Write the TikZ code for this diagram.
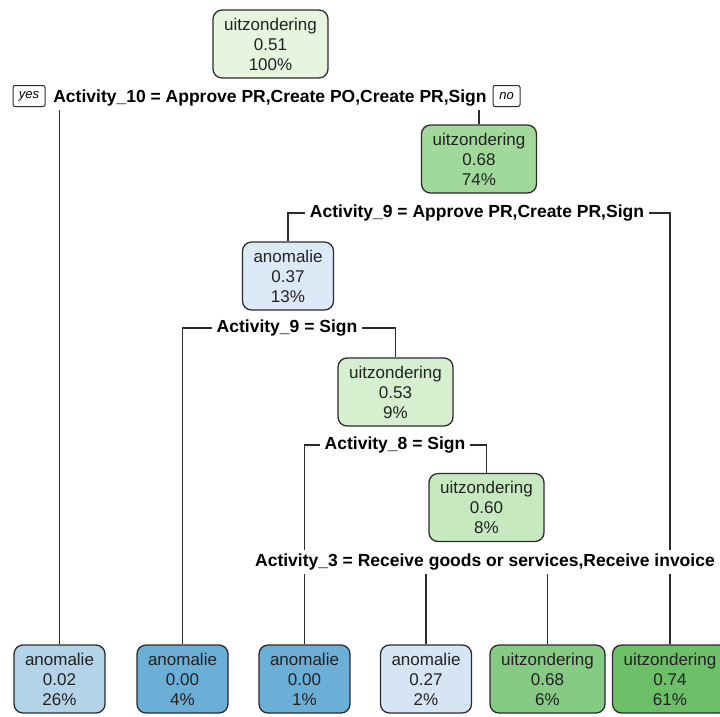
\documentclass[tikz,border=0pt]{standalone}
\usepackage{fontspec}
\setmainfont{Liberation Sans}
\pgfdeclarelayer{background}
\pgfsetlayers{background,main}
\definecolor{cRoot}{HTML}{E5F5E0}
\definecolor{cNtwo}{HTML}{A1D99B}
\definecolor{cNthree}{HTML}{DCE9F6}
\definecolor{cNfour}{HTML}{D5EFCF}
\definecolor{cNfive}{HTML}{C7E9C0}
\definecolor{cLone}{HTML}{B3D3E8}
\definecolor{cLtwo}{HTML}{6BAED6}
\definecolor{cLfour}{HTML}{D6E5F4}
\definecolor{cLfive}{HTML}{86CB84}
\definecolor{cLsix}{HTML}{6CC068}
\definecolor{lineC}{HTML}{2B2B2B}
\definecolor{txtC}{HTML}{222222}
\tikzset{
  tnode/.style={draw=lineC, line width=1.3pt, rounded corners=9pt, minimum height=68pt,
    align=center, inner sep=0pt, text=txtC,
    font=\fontsize{17}{20}\selectfont},
  wide/.style={tnode, minimum width=115pt},
  narrow/.style={tnode, minimum width=91pt},
  splitlab/.style={fill=white, inner xsep=4.5pt, inner ysep=4pt,
    font=\fontsize{17.5}{20}\selectfont\bfseries, text=black},
  yn/.style={draw=lineC, line width=1pt, rounded corners=2pt, minimum height=21pt,
    inner sep=0pt, font=\fontsize{13}{15}\selectfont\itshape},
  br/.style={draw=lineC, line width=1.5pt}
}
\begin{document}
\begin{tikzpicture}[x=1pt, y=-1pt]
\useasboundingbox (0,0) rectangle (720,716);
% internal nodes
\node[wide, fill=cRoot] (root) at (270.5,44) {uitzondering\\0.51\\100\%};
\node[wide, fill=cNtwo] (n2) at (479,159) {uitzondering\\0.68\\74\%};
\node[narrow, fill=cNthree] (n3) at (288,276) {anomalie\\0.37\\13\%};
\node[wide, fill=cNfour] (n4) at (395.5,392) {uitzondering\\0.53\\9\%};
\node[wide, fill=cNfive] (n5) at (486.5,507.5) {uitzondering\\0.60\\8\%};
% leaves
\node[narrow, fill=cLone] (l1) at (59.5,679) {anomalie\\0.02\\26\%};
\node[narrow, fill=cLtwo] (l2) at (182.5,679) {anomalie\\0.00\\4\%};
\node[narrow, fill=cLtwo] (l3) at (304.5,679) {anomalie\\0.00\\1\%};
\node[narrow, fill=cLfour] (l4) at (426,679) {anomalie\\0.27\\2\%};
\node[wide, fill=cLfive] (l5) at (547.5,679) {uitzondering\\0.68\\6\%};
\node[wide, fill=cLsix] (l6) at (670,679) {uitzondering\\0.74\\61\%};
% split labels
\node[splitlab] (s10) at (270,98) {Activity\_10 = Approve PR,Create PO,Create PR,Sign};
\node[splitlab] (s9a) at (477,213) {Activity\_9 = Approve PR,Create PR,Sign};
\node[splitlab] (s9b) at (287,328) {Activity\_9 = Sign};
\node[splitlab] (s8) at (395,445) {Activity\_8 = Sign};
\node[splitlab] (s3) at (485,562) {Activity\_3 = Receive goods or services,Receive invoice};
% yes / no
\node[yn, minimum width=32pt] (yes) at (29,96) {yes};
\node[yn, minimum width=27pt] (no) at (506.5,96) {no};
% branches
\begin{pgfonlayer}{background}
\draw[br] (l1.north) -- (l1.north |- s10.center);
\draw[br] (n2.north) -- (n2.north |- s10.center);
\draw[br] (n3.north) |- (s9a.center);
\draw[br] (l6.north) |- (s9a.center);
\draw[br] (l2.north) |- (s9b.center);
\draw[br] (n4.north) |- (s9b.center);
\draw[br] (l3.north) |- (s8.center);
\draw[br] (n5.north) |- (s8.center);
\draw[br] (l4.north) -- (l4.north |- s3.center);
\draw[br] (l5.north) -- (l5.north |- s3.center);
\end{pgfonlayer}
\end{tikzpicture}
\end{document}
